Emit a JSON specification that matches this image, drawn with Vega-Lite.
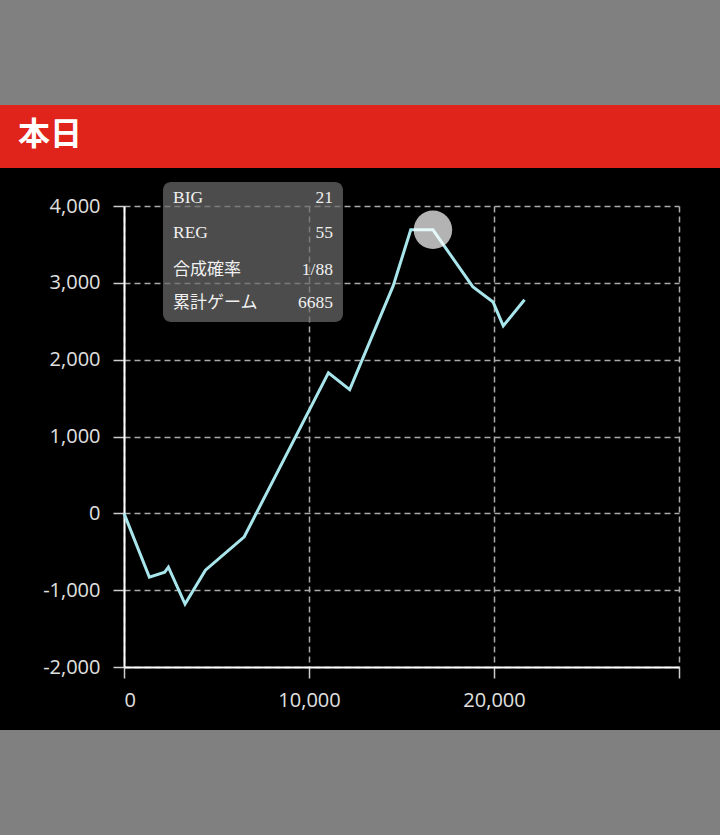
{
  "$schema": "https://vega.github.io/schema/vega-lite/v6.json",
  "width": 555,
  "height": 461,
  "autosize": {"type": "none"},
  "padding": {"left": 124, "top": 206, "right": 41, "bottom": 168},
  "background": "#000000",
  "config": {
    "view": {"stroke": null},
    "axis": {
      "title": null,
      "domainColor": "#ffffff",
      "domainWidth": 2,
      "tickColor": "#cccccc",
      "tickSize": 11,
      "tickWidth": 1.5,
      "grid": true,
      "gridColor": "#aaaaaa",
      "gridDash": [6, 4],
      "gridWidth": 1.5,
      "labelColor": "#e0e0e0",
      "labelFont": "Open Sans",
      "labelFontSize": 20
    }
  },
  "data": {
    "values": [
      {"game": 0, "diff": 0},
      {"game": 1370, "diff": -830},
      {"game": 2200, "diff": -765},
      {"game": 2400, "diff": -700},
      {"game": 3300, "diff": -1180},
      {"game": 4400, "diff": -740},
      {"game": 6500, "diff": -305},
      {"game": 11050, "diff": 1830},
      {"game": 12200, "diff": 1610},
      {"game": 14550, "diff": 2960},
      {"game": 15500, "diff": 3690},
      {"game": 16700, "diff": 3690},
      {"game": 18850, "diff": 2950},
      {"game": 19950, "diff": 2750},
      {"game": 20500, "diff": 2440},
      {"game": 21650, "diff": 2780}
    ]
  },
  "layer": [
    {
      "mark": {"type": "line", "color": "#a8e6ec", "strokeWidth": 3, "strokeJoin": "miter"},
      "encoding": {
        "x": {"field": "game", "type": "quantitative", "scale": {"domain": [0, 30000], "nice": false},
              "axis": {"title": null, "values": [0, 10000, 20000, 30000], "labelExpr": "datum.value >= 30000 ? '' : format(datum.value, ',')", "labelPadding": 12}},
        "y": {"field": "diff", "type": "quantitative", "scale": {"domain": [-2000, 4000], "nice": false},
              "axis": {"title": null, "values": [-2000, -1000, 0, 1000, 2000, 3000, 4000], "labelExpr": "replace(format(datum.value, ','), '−', '-')", "labelPadding": 13}}
      }
    },
    {
      "transform": [{"filter": "datum.game == 16700"}],
      "mark": {"type": "circle", "size": 1480, "color": "#ffffff", "opacity": 0.7},
      "encoding": {
        "x": {"field": "game", "type": "quantitative", "scale": {"domain": [0, 30000], "nice": false}},
        "y": {"field": "diff", "type": "quantitative", "scale": {"domain": [-2000, 4000], "nice": false}}
      }
    },
    {
      "data": {"values": [{}]},
      "mark": {"type": "rect", "color": "#808080"},
      "encoding": {
        "x": {"datum": -6710, "type": "quantitative", "scale": {"domain": [0, 30000], "nice": false}},
        "x2": {"datum": 32220},
        "y": {"datum": 6700, "type": "quantitative", "scale": {"domain": [-2000, 4000], "nice": false}},
        "y2": {"datum": 5315}
      }
    },
    {
      "data": {"values": [{}]},
      "mark": {"type": "rect", "color": "#808080"},
      "encoding": {
        "x": {"datum": -6710, "type": "quantitative", "scale": {"domain": [0, 30000], "nice": false}},
        "x2": {"datum": 32220},
        "y": {"datum": -2820, "type": "quantitative", "scale": {"domain": [-2000, 4000], "nice": false}},
        "y2": {"datum": -4200}
      }
    },
    {
      "data": {"values": [{}]},
      "mark": {"type": "rect", "color": "#e0231b"},
      "encoding": {
        "x": {"datum": -6710, "type": "quantitative", "scale": {"domain": [0, 30000], "nice": false}},
        "x2": {"datum": 32220},
        "y": {"datum": 5315, "type": "quantitative", "scale": {"domain": [-2000, 4000], "nice": false}},
        "y2": {"datum": 4495}
      }
    },
    {
      "data": {"values": [{"title": "本日"}]},
      "mark": {"type": "text", "align": "left", "baseline": "middle", "font": "Noto Sans CJK JP", "fontSize": 32, "fontWeight": "bold", "color": "#ffffff"},
      "encoding": {
        "x": {"datum": -5730, "type": "quantitative", "scale": {"domain": [0, 30000], "nice": false}},
        "y": {"datum": 4924, "type": "quantitative", "scale": {"domain": [-2000, 4000], "nice": false}},
        "text": {"field": "title"}
      }
    },
    {
      "data": {"values": [{}]},
      "mark": {"type": "rect", "color": "#6a6a6a", "opacity": 0.72, "cornerRadius": 8},
      "encoding": {
        "x": {"datum": 2108, "type": "quantitative", "scale": {"domain": [0, 30000], "nice": false}},
        "x2": {"datum": 11838},
        "y": {"datum": 4313, "type": "quantitative", "scale": {"domain": [-2000, 4000], "nice": false}},
        "y2": {"datum": 2490}
      }
    },
    {
      "data": {"values": [{"label": "BIG", "value": "21"}]},
      "encoding": {"y": {"datum": 4035, "type": "quantitative", "scale": {"domain": [-2000, 4000], "nice": false}}},
      "layer": [
        {"mark": {"type": "text", "align": "left", "baseline": "alphabetic", "font": "Liberation Serif, Noto Sans CJK JP", "fontSize": 17.5, "color": "#f0f0f0"},
         "encoding": {"x": {"datum": 2649, "type": "quantitative", "scale": {"domain": [0, 30000], "nice": false}}, "text": {"field": "label"}}},
        {"mark": {"type": "text", "align": "right", "baseline": "alphabetic", "font": "Liberation Serif", "fontSize": 17.5, "color": "#f0f0f0"},
         "encoding": {"x": {"datum": 11297, "type": "quantitative", "scale": {"domain": [0, 30000], "nice": false}}, "text": {"field": "value"}}}
      ]
    },
    {
      "data": {"values": [{"label": "REG", "value": "55"}]},
      "encoding": {"y": {"datum": 3580, "type": "quantitative", "scale": {"domain": [-2000, 4000], "nice": false}}},
      "layer": [
        {"mark": {"type": "text", "align": "left", "baseline": "alphabetic", "font": "Liberation Serif, Noto Sans CJK JP", "fontSize": 17.5, "color": "#f0f0f0"},
         "encoding": {"x": {"datum": 2649, "type": "quantitative", "scale": {"domain": [0, 30000], "nice": false}}, "text": {"field": "label"}}},
        {"mark": {"type": "text", "align": "right", "baseline": "alphabetic", "font": "Liberation Serif", "fontSize": 17.5, "color": "#f0f0f0"},
         "encoding": {"x": {"datum": 11297, "type": "quantitative", "scale": {"domain": [0, 30000], "nice": false}}, "text": {"field": "value"}}}
      ]
    },
    {
      "data": {"values": [{"label": "合成確率", "value": "1/88"}]},
      "encoding": {"y": {"datum": 3102, "type": "quantitative", "scale": {"domain": [-2000, 4000], "nice": false}}},
      "layer": [
        {"mark": {"type": "text", "align": "left", "baseline": "alphabetic", "font": "Liberation Serif, Noto Sans CJK JP", "fontSize": 17, "color": "#f0f0f0"},
         "encoding": {"x": {"datum": 2649, "type": "quantitative", "scale": {"domain": [0, 30000], "nice": false}}, "text": {"field": "label"}}},
        {"mark": {"type": "text", "align": "right", "baseline": "alphabetic", "font": "Liberation Serif", "fontSize": 17.5, "color": "#f0f0f0"},
         "encoding": {"x": {"datum": 11297, "type": "quantitative", "scale": {"domain": [0, 30000], "nice": false}}, "text": {"field": "value"}}}
      ]
    },
    {
      "data": {"values": [{"label": "累計ゲーム", "value": "6685"}]},
      "encoding": {"y": {"datum": 2677, "type": "quantitative", "scale": {"domain": [-2000, 4000], "nice": false}}},
      "layer": [
        {"mark": {"type": "text", "align": "left", "baseline": "alphabetic", "font": "Liberation Serif, Noto Sans CJK JP", "fontSize": 17, "color": "#f0f0f0"},
         "encoding": {"x": {"datum": 2649, "type": "quantitative", "scale": {"domain": [0, 30000], "nice": false}}, "text": {"field": "label"}}},
        {"mark": {"type": "text", "align": "right", "baseline": "alphabetic", "font": "Liberation Serif", "fontSize": 17.5, "color": "#f0f0f0"},
         "encoding": {"x": {"datum": 11297, "type": "quantitative", "scale": {"domain": [0, 30000], "nice": false}}, "text": {"field": "value"}}}
      ]
    }
  ]
}
